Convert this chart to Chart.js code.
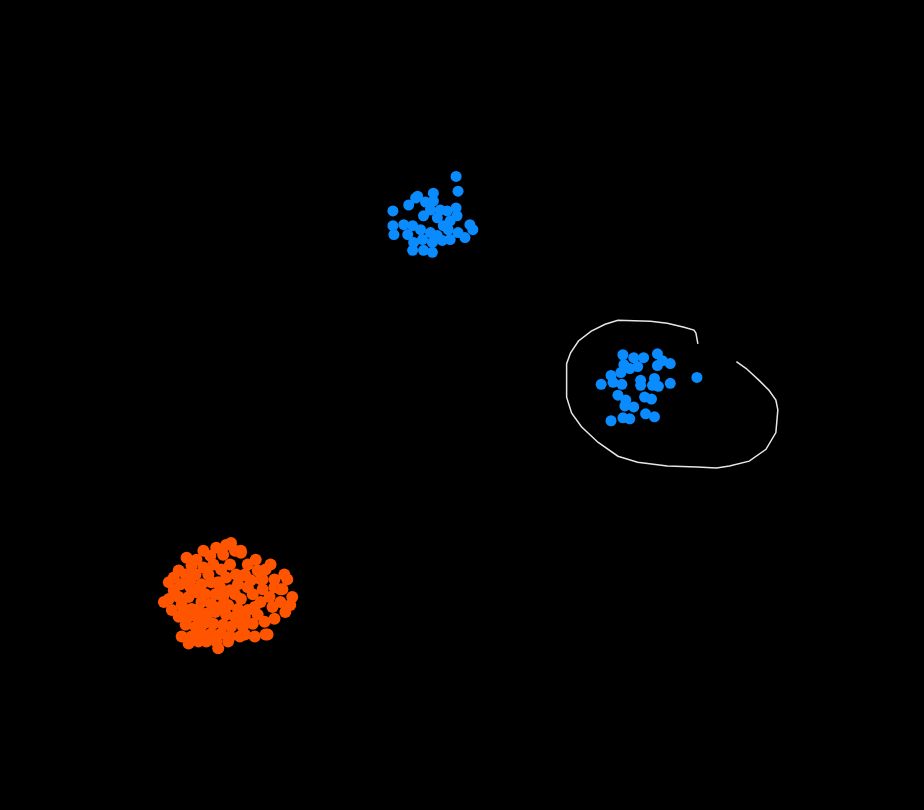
<!DOCTYPE html>
<html>
<head>
<meta charset="utf-8">
<script src="https://cdn.jsdelivr.net/npm/chart.js@4/dist/chart.umd.min.js"></script>
<style>
html,body{margin:0;padding:0;background:#000;}
#wrap{width:924px;height:810px;}
</style>
</head>
<body>
<div id="wrap"><canvas id="c" width="924" height="810"></canvas></div>
<script>
const clusterTop = [
[456,173],[458,188],[392,208],[408,202],[417,193],[433,190],[433,198],[425,199],[430,207],[423,213],
[437,215],[447,208],[456,205],[457,213],[450,218],[470,222],[473,227],[392,223],[393,232],[403,222],
[412,223],[420,227],[430,230],[437,233],[407,232],[413,240],[422,237],[432,240],[442,238],[450,237],
[458,230],[465,235],[412,248],[423,248],[432,250],[448,227],[443,223],[415,195],[440,207]
];
const clusterRight = [
[625,354],[636,357],[646,357],[660,353],[665,360],[673,363],[660,365],[626,364],[640,366],[632,368],
[623,372],[613,375],[615,382],[603,384],[624,384],[643,380],[643,385],[657,378],[655,385],[661,386],
[673,383],[700,377],[620,395],[628,400],[627,406],[636,407],[647,397],[654,399],[648,414],[657,417],
[613,421],[625,418],[632,419]
];
const clusterOrange = [
[223,547],[213,550],[232,553],[200,553],[238,555],[183,560],[193,562],[207,558],[220,557],[253,562],
[245,567],[210,567],[200,570],[188,568],[175,573],[170,580],[182,577],[192,577],[205,577],[218,572],
[223,580],[233,577],[242,577],[227,567],[255,573],[263,572],[282,577],[285,582],[272,582],[260,582],
[248,583],[235,587],[227,593],[217,590],[208,585],[198,587],[187,583],[177,587],[165,585],[170,593],
[165,602],[160,605],[168,613],[178,608],[185,600],[193,595],[202,597],[212,597],[220,600],[232,597],
[238,602],[250,597],[260,592],[272,590],[280,592],[267,600],[258,605],[288,608],[278,605],[270,610],
[252,610],[245,613],[235,612],[225,608],[217,610],[208,607],[198,605],[188,612],[175,620],[183,622],
[193,620],[203,617],[212,615],[223,618],[232,620],[242,620],[255,618],[262,625],[272,622],[250,627],
[240,630],[228,630],[220,628],[210,627],[200,627],[192,630],[182,628],[188,640],[178,640],[198,637],
[208,637],[218,637],[227,640],[242,638],[252,640],[263,638],[215,652],[213,645],[225,645],[195,645],
[185,647],[237,640],[203,645],[228,545],[238,553],[242,578],[258,582],[278,592],[265,638],[245,590],
[195,612],[235,625],[205,625],[180,612],[283,615],[290,600],[175,600],[187,590],[268,567],[215,585]
];
const loopPath = [
[701,343],[699,332],[697,329],[687,326],[670,322],[653,320],[620,319],[607,323],[593,330],[580,340],
[572,352],[568,363],[568,397],[573,413],[583,427],[600,443],[620,457],[640,463],[670,467],[700,468],
[720,469],[733,467],[753,462],[770,450],[780,433],[782,410],[780,400],[773,390],[763,380],[750,368],[740,361]
];
const toXY = a => a.map(p => ({x:p[0], y:p[1]}));
new Chart(document.getElementById('c'), {
  type: 'scatter',
  data: {
    datasets: [
      {data: toXY(loopPath), showLine: true, borderColor: '#e6e6e6', borderWidth: 1.5, pointRadius: 0, tension: 0, fill: false},
      {data: toXY(clusterTop), backgroundColor: '#0a8cff', borderWidth: 0, pointRadius: 5.5},
      {data: toXY(clusterRight), backgroundColor: '#0a8cff', borderWidth: 0, pointRadius: 5.5},
      {data: toXY(clusterOrange), backgroundColor: '#ff5500', borderWidth: 0, pointRadius: 6}
    ]
  },
  options: {
    responsive: false,
    animation: false,
    layout: {padding: 0},
    plugins: {legend: {display: false}, tooltip: {enabled: false}},
    scales: {
      x: {type: 'linear', min: 0, max: 924, display: false},
      y: {type: 'linear', min: 0, max: 810, reverse: true, display: false}
    }
  }
});
</script>
</body>
</html>
